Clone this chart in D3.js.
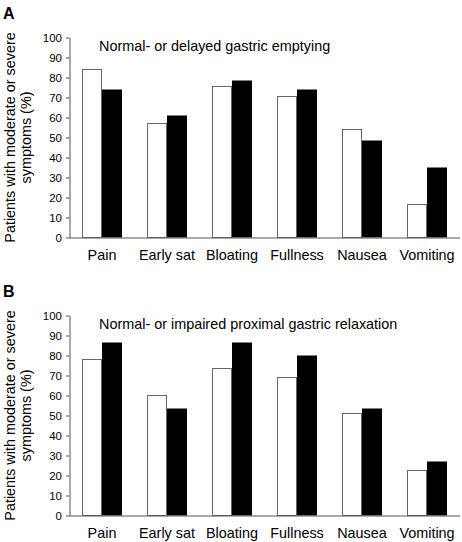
<!DOCTYPE html>
<html>
<head>
<meta charset="utf-8">
<script src="https://cdn.jsdelivr.net/npm/d3@7"></script>
<style>
  html, body { margin: 0; padding: 0; background: #fff; }
  svg { display: block; }
  text { font-family: "Liberation Sans", Arial, sans-serif; fill: #000; }
</style>
</head>
<body>
<svg id="chart" width="462" height="542"></svg>
<script>
const categories = ["Pain", "Early sat", "Bloating", "Fullness", "Nausea", "Vomiting"];
const seriesNames = ["Normal", "Abnormal"];
// Panel A: normal vs delayed gastric emptying
const panelA_normal  = [84, 57, 75.5, 70.5, 54, 16.5];
const panelA_delayed = [74, 61, 78.5, 74, 48.5, 35];
// Panel B: normal vs impaired proximal gastric relaxation
const panelB_normal   = [78, 60, 73.5, 69, 51, 22.5];
const panelB_impaired = [86.5, 53.5, 86.5, 80, 53.5, 27];
const yTicks = [0, 10, 20, 30, 40, 50, 60, 70, 80, 90, 100];
const panelLetters = ["A", "B"];
const panelTitles = ["Normal- or delayed gastric emptying", "Normal- or impaired proximal gastric relaxation"];
const yLabelLines = ["Patients with moderate or severe", "symptoms (%)"];

const panels = [
  { letter: panelLetters[0], title: panelTitles[0], a: panelA_normal, b: panelA_delayed, top: 37.5 },
  { letter: panelLetters[1], title: panelTitles[1], a: panelB_normal, b: panelB_impaired, top: 315.5 }
];

const svg = d3.select("#chart");
const axisLeft = 69.5, axisRight = 460;
const plotH = 200;

const x = d3.scaleBand().domain(categories).range([axisLeft, axisLeft + 390]).paddingInner(0).paddingOuter(0);
const xs = d3.scaleBand().domain(seriesNames).range([0, 40]);
const groupOffset = (x.bandwidth() - 40) / 2;

panels.forEach(p => {
  const g = svg.append("g");
  const y = d3.scaleLinear().domain([0, 100]).range([p.top + plotH, p.top]);

  g.append("text").attr("x", 3).attr("y", p.top - 18.5)
    .style("font-weight", "bold").style("font-size", "16px").text(p.letter);

  g.append("text").attr("x", 99).attr("y", p.top + 13)
    .style("font-size", "14.4px").text(p.title);

  // y axis label
  const cy = p.top + plotH / 2;
  yLabelLines.forEach((line, i) => {
    g.append("text")
      .attr("transform", `translate(${14.5 + i * 16.5},${cy}) rotate(-90)`)
      .attr("text-anchor", "middle")
      .style("font-size", "14.4px")
      .text(line);
  });

  // bars
  const data = categories.map((c, i) => ({ c, vals: [p.a[i], p.b[i]] }));
  const grp = g.selectAll("g.cat").data(data).join("g")
    .attr("transform", d => `translate(${x(d.c) + groupOffset},0)`);
  grp.selectAll("rect").data(d => d.vals.map((v, j) => ({ v, s: seriesNames[j] }))).join("rect")
    .attr("x", d => xs(d.s) + (d.s === seriesNames[0] ? 0.5 : 0))
    .attr("y", d => y(d.v))
    .attr("width", d => xs.bandwidth() - (d.s === seriesNames[0] ? 1 : 0))
    .attr("height", d => y(0) - y(d.v))
    .attr("fill", d => d.s === seriesNames[0] ? "#fff" : "#000")
    .attr("stroke", d => d.s === seriesNames[0] ? "#666" : "none")
    .attr("stroke-width", 1);

  // y axis
  const ya = g.append("g").attr("transform", `translate(${axisLeft},0)`)
    .call(d3.axisLeft(y).tickValues(yTicks).tickSize(3.5).tickPadding(4).tickSizeOuter(0));
  ya.select(".domain").attr("stroke", "#555");
  ya.selectAll(".tick line").attr("stroke", "#555");
  ya.selectAll(".tick text").style("font-size", "11.5px").style("font-family", "Liberation Sans, Arial, sans-serif").attr("fill", "#000");

  // x axis
  const xa = g.append("g").attr("transform", `translate(0,${y(0)})`)
    .call(d3.axisBottom(x).tickSize(0).tickPadding(12));
  xa.select(".domain").attr("stroke", "#555").attr("d", `M${axisLeft},0.5H${axisRight}`);
  xa.selectAll(".tick text").style("font-size", "14.4px").style("font-family", "Liberation Sans, Arial, sans-serif").attr("fill", "#000");
});
</script>
</body>
</html>
